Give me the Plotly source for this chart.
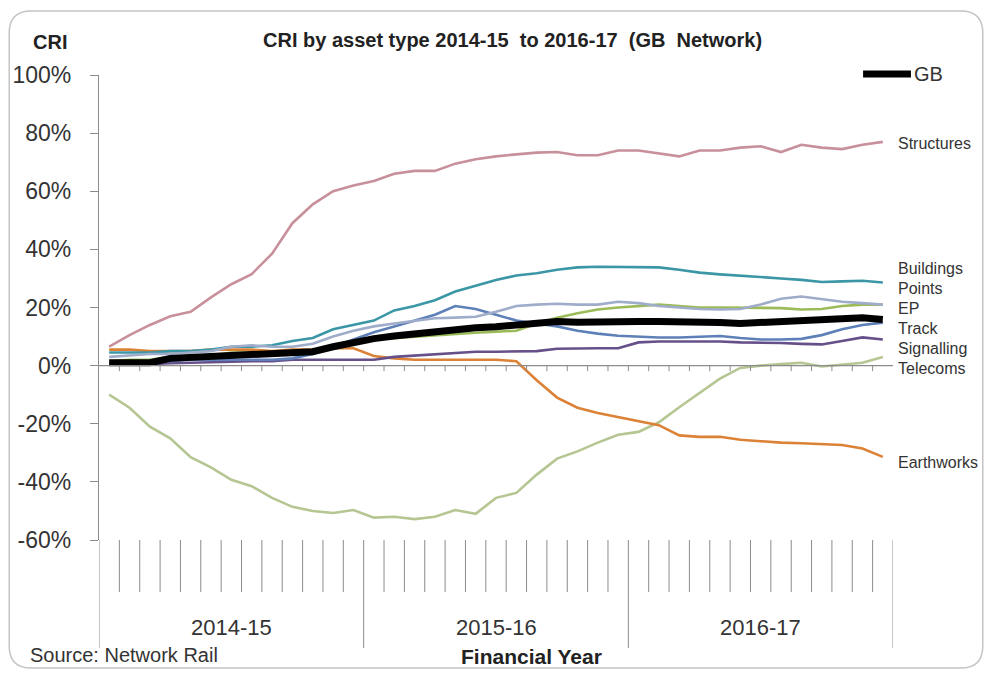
import plotly.graph_objects as go

# Financial years and the 13 reporting periods within each
years = ["2014-15", "2015-16", "2016-17"]
periods = [f"P{p:02d}" for p in range(1, 14)]

# CRI by asset type, % (one value per period, 39 periods)
structures = [6.5, 10.5, 14, 17, 18.5, 23.5, 28, 31.5, 38.5, 49, 55.5, 60, 62,
              63.5, 66, 67, 67, 69.5, 71, 72, 72.7, 73.3, 73.5, 72.4, 72.4, 74,
              74, 73, 72, 74, 74, 75, 75.5, 73.5, 76, 75, 74.5, 76, 77]
buildings = [4.5, 4.5, 4.5, 5, 5, 5.5, 6.5, 6.5, 7, 8.5, 9.5, 12.5, 14,
             15.5, 19, 20.5, 22.5, 25.5, 27.5, 29.5, 31, 31.8, 33, 33.8, 34, 34,
             34, 33.8, 33, 32, 31.4, 31, 30.5, 30, 29.5, 28.8, 29, 29.2, 28.6]
points = [3, 3.5, 4, 4, 4.5, 5, 6.5, 7, 6.5, 6.5, 7.5, 10, 12,
          13.5, 14.5, 15.5, 16.3, 16.5, 16.8, 18.5, 20.5, 21, 21.3, 21, 21, 22,
          21.5, 20.5, 20, 19.5, 19.3, 19.5, 21, 23, 23.8, 23, 22, 21.5, 21]
ep = [1.5, 2, 2, 3, 3.5, 3.5, 4.5, 4.5, 4.5, 5, 5, 6.5, 8,
      9, 9.5, 10, 10.5, 11, 11.3, 11.7, 12, 14.5, 16.5, 18, 19.3, 20,
      20.5, 21, 20.5, 20, 20, 20, 20, 19.8, 19.3, 19.5, 20.5, 21, 21]
track = [1.5, 1.5, 1.5, 1.5, 2, 2, 2, 2, 2, 2.5, 4, 6.5, 9,
         11.5, 13.5, 15.5, 17.5, 20.5, 19.5, 17.5, 15.5, 14.5, 13.5, 12, 11, 10.3,
         10, 9.7, 9.7, 10, 10.2, 9.5, 9, 9, 9.2, 10.5, 12.5, 14, 14.8]
signalling = [0.5, 0.5, 0.5, 0.8, 1, 1, 1.2, 1.5, 1.5, 2, 2, 2, 1.8,
              2, 3, 3.5, 4, 4.5, 4.8, 4.8, 4.8, 5, 5.8, 6, 6, 6,
              8, 8.3, 8.3, 8.3, 8.3, 8, 8, 7.8, 7.5, 7.3, 8.5, 9.7, 9]
telecoms = [-10, -14.5, -21, -25, -31.5, -35, -39.3, -41.5, -45.5, -48.6, -50, -50.7, -49.7,
            -52.3, -52, -52.8, -52, -49.7, -51, -45.5, -43.8, -37.5, -32, -29.5, -26.5, -23.8,
            -22.8, -19.5, -14.3, -9.5, -4.5, -0.8, 0, 0.5, 1, -0.3, 0.3, 1, 3]
earthworks = [5.5, 5.5, 5, 5, 5, 5.5, 5.5, 5.5, 5, 5.5, 5.5, 6, 6,
              3.3, 2.5, 2, 2, 2, 2, 2, 1.5, -5, -11, -14.5, -16.3, -17.7,
              -19, -20.5, -24, -24.5, -24.5, -25.5, -26, -26.5, -26.7, -27, -27.3, -28.5, -31.4]
gb = [1, 1.3, 1, 2.5, 2.8, 3.2, 4, 4.3, 4.5, 4.5, 4.8, 6.5, 8,
      9.3, 10.2, 11, 11.8, 12.5, 13, 13.4, 13.8, 14.5, 15.2, 14.9, 14.8, 15,
      15.2, 15.2, 15.2, 15, 14.8, 14.5, 14.8, 15, 15.3, 15.6, 15.9, 16.5, 15.9]

# Label positions beside the line ends (y in %)
label_names = ["Structures", "Buildings", "Points", "EP", "Track", "Signalling", "Telecoms", "Earthworks"]
label_y = [76.6, 33.4, 26.5, 19.6, 12.7, 5.8, -1.1, -33.2]

y_ticks = [-60, -40, -20, 0, 20, 40, 60, 80, 100]

n = len(years) * len(periods)
xs = list(range(n))

W, H = 987, 673
ML, MR, MT, MB = 97, 94, 75, 133
PW, PH = W - ML - MR, H - MT - MB


def px(x):
    return (x - ML) / PW


def py(y):
    return (H - MB - y) / PH


series = [
    ("Telecoms", telecoms, "#b5c693", 2.6),
    ("Earthworks", earthworks, "#dc8236", 2.6),
    ("Structures", structures, "#c8909a", 2.6),
    ("Buildings", buildings, "#3b96a6", 2.6),
    ("Signalling", signalling, "#66508a", 2.6),
    ("Track", track, "#5e80b8", 2.6),
    ("EP", ep, "#9bbb59", 2.6),
    ("Points", points, "#9fadca", 2.6),
    ("GB", gb, "#000000", 7),
]

fig = go.Figure()
for name, vals, col, w in series:
    fig.add_trace(go.Scatter(x=xs, y=vals, mode="lines", name=name,
                             line=dict(color=col, width=w), showlegend=False))

shapes = []
axis_col = "#8c8c8c"
# zero line across the plot
shapes.append(dict(type="line", xref="x", yref="y", x0=-0.5, x1=n - 0.5, y0=0, y1=0,
                   line=dict(color=axis_col, width=1.2)))
# small period ticks hanging off the zero line
for k in range(n - 1):
    shapes.append(dict(type="line", xref="x", yref="y", x0=k + 0.5, x1=k + 0.5,
                       y0=0, y1=-1.9, line=dict(color=axis_col, width=1)))
# multi-level category dividers below the plot
for k in range(n + 1):
    xb = k - 0.5
    if k % len(periods) == 0:
        y_end = py(648)
    else:
        y_end = py(592)
    shapes.append(dict(type="line", xref="x", yref="paper", x0=xb, x1=xb,
                       y0=0, y1=y_end, line=dict(color=axis_col, width=1)))

# rounded outer frame
x0f, x1f, y0f, y1f, r = 7, 983, 11, 668, 22
path = (f"M {px(x0f + r)},{py(y0f)} L {px(x1f - r)},{py(y0f)} "
        f"Q {px(x1f)},{py(y0f)} {px(x1f)},{py(y0f + r)} L {px(x1f)},{py(y1f - r)} "
        f"Q {px(x1f)},{py(y1f)} {px(x1f - r)},{py(y1f)} L {px(x0f + r)},{py(y1f)} "
        f"Q {px(x0f)},{py(y1f)} {px(x0f)},{py(y1f - r)} L {px(x0f)},{py(y0f + r)} "
        f"Q {px(x0f)},{py(y0f)} {px(x0f + r)},{py(y0f)} Z")
shapes.append(dict(type="path", xref="paper", yref="paper", path=path,
                   line=dict(color="#c4c4c4", width=1.5), layer="below"))

# legend key for GB
shapes.append(dict(type="line", xref="paper", yref="paper", x0=px(863), x1=px(911),
                   y0=py(74), y1=py(74), line=dict(color="#000000", width=7)))

font = "Liberation Sans, Arial, sans-serif"
ann = []
ann.append(dict(text="GB", xref="paper", yref="paper", x=px(912), y=py(74),
                xanchor="left", yanchor="middle", showarrow=False,
                font=dict(family=font, size=20, color="#333333")))
for name, yv in zip(label_names, label_y):
    ann.append(dict(text=name, xref="paper", yref="y", x=px(896), y=yv,
                    xanchor="left", yanchor="middle", showarrow=False,
                    font=dict(family=font, size=16, color="#333333")))
for i, yr in enumerate(years):
    xc = i * len(periods) + (len(periods) - 1) / 2
    ann.append(dict(text=yr, xref="x", yref="paper", x=xc, y=py(627),
                    xanchor="center", yanchor="middle", showarrow=False,
                    font=dict(family=font, size=22, color="#333333")))
ann.append(dict(text="<b>CRI by asset type 2014-15  to 2016-17  (GB  Network)</b>",
                xref="paper", yref="paper", x=px(512), y=py(40),
                xanchor="center", yanchor="middle", showarrow=False,
                font=dict(family=font, size=20, color="#222222")))
ann.append(dict(text="<b>CRI</b>", xref="paper", yref="paper", x=px(29), y=py(42),
                xanchor="left", yanchor="middle", showarrow=False,
                font=dict(family=font, size=20, color="#222222")))
ann.append(dict(text="Source: Network Rail", xref="paper", yref="paper", x=px(26), y=py(655),
                xanchor="left", yanchor="middle", showarrow=False,
                font=dict(family=font, size=20, color="#333333")))
ann.append(dict(text="<b>Financial Year</b>", xref="paper", yref="paper", x=px(531), y=py(656),
                xanchor="center", yanchor="middle", showarrow=False,
                font=dict(family=font, size=21, color="#222222")))

fig.update_layout(
    width=W, height=H,
    margin=dict(l=ML, r=MR, t=MT, b=MB, pad=0),
    paper_bgcolor="white", plot_bgcolor="white",
    showlegend=False,
    shapes=shapes, annotations=ann,
    xaxis=dict(range=[-0.5, n - 0.5], showgrid=False, zeroline=False,
               showticklabels=False, ticks="", showline=False, fixedrange=True),
    yaxis=dict(range=[-60, 100], tickvals=y_ticks,
               ticktext=[f"{v}%" for v in y_ticks],
               showgrid=False, zeroline=False, showline=True, linecolor=axis_col,
               linewidth=1.2, ticks="outside", ticklen=8, tickcolor=axis_col,
               ticklabelstandoff=14,
               tickfont=dict(family=font, size=23, color="#333333"), fixedrange=True),
)

fig.write_html("out.html")
